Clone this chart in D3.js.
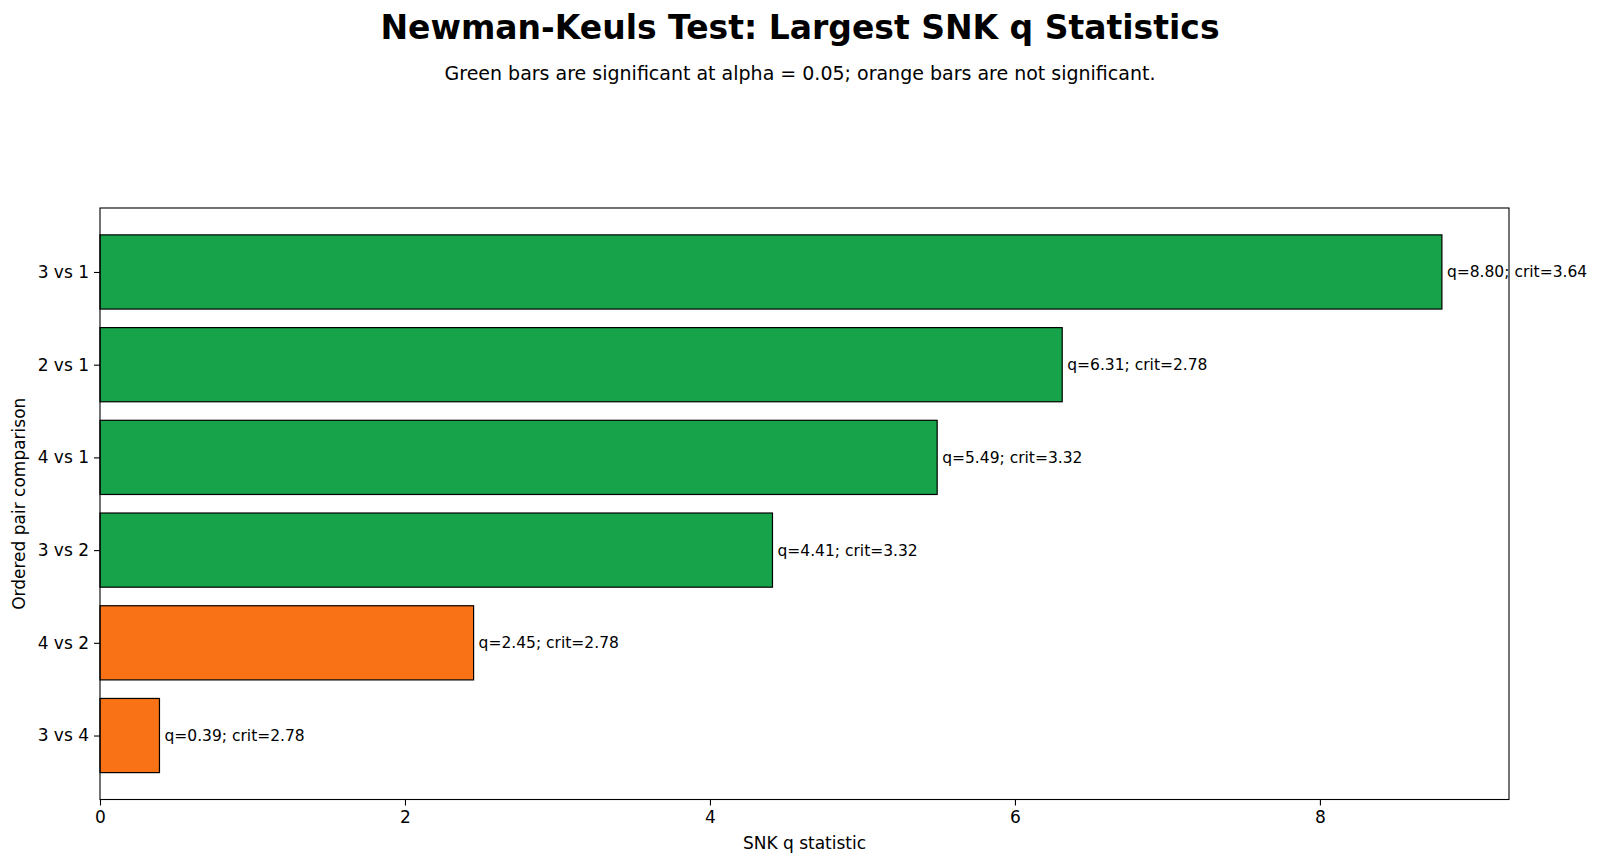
<!DOCTYPE html>
<html>
<head>
<meta charset="utf-8">
<script src="https://cdn.jsdelivr.net/npm/d3@7"></script>
<style>
  body { margin: 0; background: #fff; }
  svg { font-family: "DejaVu Sans", sans-serif; }
</style>
</head>
<body>
<svg width="1600" height="864"></svg>
<script>
// pairs listed from top to bottom
const pairs = ["3 vs 1", "2 vs 1", "4 vs 1", "3 vs 2", "4 vs 2", "3 vs 4"];
const qValues = [8.80, 6.31, 5.49, 4.41, 2.45, 0.39];
const critValues = [3.64, 2.78, 3.32, 3.32, 2.78, 2.78];
const xTicks = [0, 2, 4, 6, 8];

const data = pairs.map((p, i) => ({pair: p, q: qValues[i], crit: critValues[i], pos: pairs.length - 1 - i}));

const margin = {top: 208, right: 91, bottom: 64.5, left: 100};
const width = 1600, height = 864;
const plotW = width - margin.left - margin.right;
const plotH = height - margin.top - margin.bottom;

const svg = d3.select("svg");

const x = d3.scaleLinear()
    .domain([0, d3.max(qValues) * 1.05])
    .range([0, plotW]);

// matplotlib-style barh: positions 0..n-1, bar height 0.8, 5% margins
const barH = 0.8;
const lo = -barH / 2, hi = pairs.length - 1 + barH / 2;
const pad = (hi - lo) * 0.05;
const y = d3.scaleLinear()
    .domain([lo - pad, hi + pad])
    .range([plotH, 0]);

const g = svg.append("g")
    .attr("transform", `translate(${margin.left},${margin.top})`);

// bars
g.selectAll("rect.bar")
    .data(data)
    .join("rect")
    .attr("class", "bar")
    .attr("x", x(0))
    .attr("y", d => y(d.pos + barH / 2))
    .attr("width", d => x(d.q) - x(0))
    .attr("height", d => y(d.pos - barH / 2) - y(d.pos + barH / 2))
    .attr("fill", d => d.q > d.crit ? "#16a34a" : "#f97316")
    .attr("stroke", "#000")
    .attr("stroke-width", 1.2);

// labels
g.selectAll("text.lbl")
    .data(data)
    .join("text")
    .attr("class", "lbl")
    .attr("x", d => x(d.q) + 5)
    .attr("y", d => y(d.pos))
    .attr("dy", "0.35em")
    .attr("font-size", "15.5px")
    .attr("fill", "#000")
    .text(d => `q=${d.q.toFixed(2)}; crit=${d.crit.toFixed(2)}`);

// x axis
const xAxis = g.append("g")
    .attr("transform", `translate(0,${plotH})`)
    .call(d3.axisBottom(x).tickValues(xTicks).tickFormat(d3.format("d")).tickSize(6).tickSizeOuter(0).tickPadding(5));
xAxis.select(".domain").remove();
xAxis.selectAll("text").attr("font-size", "17px").attr("fill", "#000").attr("font-family", "DejaVu Sans");
xAxis.selectAll("line").attr("stroke", "#000").attr("stroke-width", 1.1);

// y axis
const yAxis = g.append("g")
    .call(d3.axisLeft(y).tickValues(data.map(d => d.pos)).tickFormat(v => data.find(d => d.pos === v).pair).tickSize(6).tickSizeOuter(0).tickPadding(5));
yAxis.select(".domain").remove();
yAxis.selectAll("text").attr("font-size", "17px").attr("fill", "#000").attr("font-family", "DejaVu Sans");
yAxis.selectAll("line").attr("stroke", "#000").attr("stroke-width", 1.1);

// frame
g.append("rect")
    .attr("width", plotW)
    .attr("height", plotH)
    .attr("fill", "none")
    .attr("stroke", "#000")
    .attr("stroke-width", 1.1);

// axis labels
svg.append("text")
    .attr("x", margin.left + plotW / 2)
    .attr("y", 849)
    .attr("text-anchor", "middle")
    .attr("font-size", "17px")
    .text("SNK q statistic");

svg.append("text")
    .attr("transform", `translate(25,${margin.top + plotH / 2}) rotate(-90)`)
    .attr("text-anchor", "middle")
    .attr("font-size", "17px")
    .text("Ordered pair comparison");

// titles
svg.append("text")
    .attr("x", width / 2)
    .attr("y", 39)
    .attr("text-anchor", "middle")
    .attr("font-size", "33px")
    .attr("font-weight", "bold")
    .text("Newman-Keuls Test: Largest SNK q Statistics");

svg.append("text")
    .attr("x", width / 2)
    .attr("y", 80)
    .attr("text-anchor", "middle")
    .attr("font-size", "19px")
    .text("Green bars are significant at alpha = 0.05; orange bars are not significant.");
</script>
</body>
</html>
